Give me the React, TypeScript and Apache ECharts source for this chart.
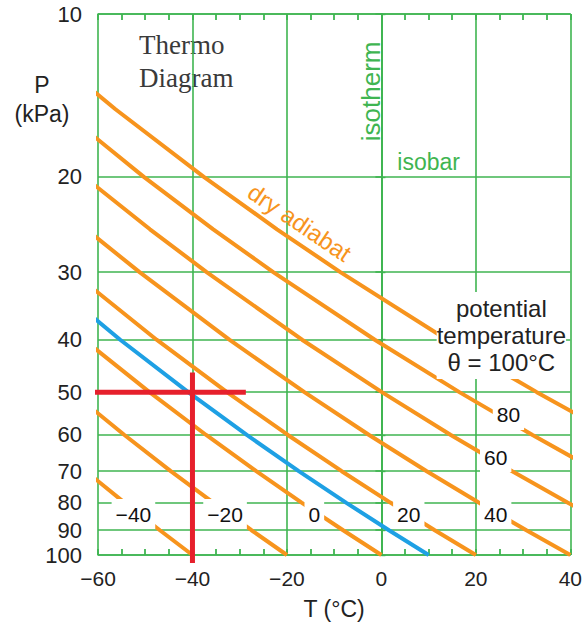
import React, { useEffect, useRef } from "react";
import * as echarts from "echarts";

// Pressure levels (kPa) at which each dry adiabat's temperature was read
const pressureLevels = [10, 12, 15, 20, 25, 30, 40, 50, 60, 70, 80, 90, 100];
// Temperatures (°C) read along each dry adiabat (null = not needed)
const adiabat100 = [-80.0, -69.7, -56.3, -37.6, -22.1, -8.7, 13.9, 32.9, 49.3, null, null, null, null];
const adiabat80 = [-90.4, -80.6, -67.9, -50.3, -35.6, -22.9, -1.4, 16.5, 32.0, 45.7, null, null, null];
const adiabat60 = [null, null, -79.5, -62.9, -49.0, -37.0, -16.8, 0.1, 14.7, 27.7, 39.4, 50.1, null];
const adiabat40 = [null, null, null, -75.5, -62.5, -51.2, -32.2, -16.3, -2.6, 9.6, 20.6, 30.7, 40];
const adiabat20 = [null, null, null, null, -75.9, -65.4, -47.6, -32.7, -19.8, -8.4, 1.9, 11.3, 20];
const adiabat0 = [null, null, null, null, null, -79.6, -63.0, -49.1, -37.1, -26.5, -16.9, -8.1, 0];
const adiabatM20 = [null, null, null, null, null, null, -78.4, -65.5, -54.4, -44.6, -35.6, -27.5, -20];
const adiabatM40 = [null, null, null, null, null, null, null, null, -71.7, -62.6, -54.4, -46.9, -40];
const adiabatBlue10 = [null, null, null, null, null, -72.5, -55.3, -40.9, -28.5, -17.5, -7.5, 1.6, 10];

const orangeAdiabats = [adiabat100, adiabat80, adiabat60, adiabat40, adiabat20, adiabat0, adiabatM20, adiabatM40];

// Axis ticks
const pressureTicks = [10, 20, 30, 40, 50, 60, 70, 80, 90, 100];
const tempMin = -60;
const tempMax = 40;
const tempStep = 20;
const tempMinorStep = 5;

// Red crosshair (T °C, P kPa)
const crossH = [[-62.1, 50], [-28.7, 50]];
const crossV = [[-40, 46], [-40, 103.5]];

// Adiabat labels: [text, T, P]
const thetaLabels: [string, number, number][] = [
  ["−40", -52.5, 84],
  ["−20", -33.1, 84],
  ["0", -14.2, 84],
  ["20", 5.8, 84],
  ["40", 24.2, 84],
  ["60", 24.2, 65.9],
  ["80", 26.9, 55.1],
];
const potentialLabel: [string, number, number] = ["potential\ntemperature\nθ = 100°C", 25.4, 39.3];
const isothermLabel: [string, number, number] = ["isotherm", -2.2, 13.9];
const isobarLabel: [string, number, number] = ["isobar", 10.0, 18.8];
const adiabatLabel: [string, number, number] = ["dry adiabat", -17.3, 24.3];

const GREEN = "#3fb551";
const ORANGE = "#f7941d";
const BLUE = "#1ea0e4";
const RED = "#e6202c";
const TEXT = "#222";
const SANS = "'Liberation Sans', Arial, sans-serif";

function toPairs(temps: (number | null)[]) {
  const out: number[][] = [];
  temps.forEach((t, i) => {
    if (t !== null) out.push([t, pressureLevels[i]]);
  });
  return out;
}

const fmtT = (v: number) => (v < 0 ? "−" + Math.abs(v) : String(v));

export default function App() {
  const ref = useRef<HTMLDivElement>(null);
  useEffect(() => {
    if (!ref.current) return;
    const chart = echarts.init(ref.current, null, { renderer: "svg" });

    const lineCommon = {
      type: "line",
      symbol: "none",
      xAxisIndex: 0,
      yAxisIndex: 0,
      silent: true,
    };

    const series: any[] = [];
    orangeAdiabats.forEach((arr) => {
      series.push({ ...lineCommon, data: toPairs(arr), clip: true, z: 3, lineStyle: { color: ORANGE, width: 4 } });
    });
    series.push({ ...lineCommon, data: toPairs(adiabatBlue10), clip: true, z: 4, lineStyle: { color: BLUE, width: 4 } });
    series.push({ ...lineCommon, data: crossH, clip: false, z: 5, lineStyle: { color: RED, width: 5 } });
    series.push({ ...lineCommon, data: crossV, clip: false, z: 5, lineStyle: { color: RED, width: 5 } });

    const labelData: any[] = [];
    thetaLabels.forEach(([text, t, p]) => {
      labelData.push({
        value: [t, p],
        label: {
          formatter: text,
          fontSize: 21,
          lineHeight: 22,
          color: "#111",
          opacity: 1,
          backgroundColor: "#fff",
          padding: [4, 4, 4, 4],
        },
      });
    });
    labelData.push({
      value: [potentialLabel[1], potentialLabel[2]],
      label: {
        formatter: potentialLabel[0],
        fontSize: 24,
        lineHeight: 27,
        color: TEXT,
        align: "center",
        backgroundColor: "#fff",
        padding: [2, 0, 4, 0],
      },
    });
    labelData.push({
      value: [isothermLabel[1], isothermLabel[2]],
      label: { formatter: isothermLabel[0], fontSize: 26, color: GREEN, rotate: 90 },
    });
    labelData.push({
      value: [isobarLabel[1], isobarLabel[2]],
      label: { formatter: isobarLabel[0], fontSize: 23, color: GREEN },
    });
    labelData.push({
      value: [adiabatLabel[1], adiabatLabel[2]],
      label: { formatter: adiabatLabel[0], fontSize: 24, color: ORANGE, rotate: -34 },
    });

    series.push({
      type: "scatter",
      xAxisIndex: 0,
      yAxisIndex: 0,
      symbolSize: 1,
      itemStyle: { color: "#ffffff", opacity: 1 },
      z: 10,
      silent: true,
      label: {
        show: true,
        position: "top",
        distance: -0.5,
        align: "center",
        verticalAlign: "middle",
        fontFamily: SANS,
        textBorderWidth: 0,
      },
      data: labelData,
    });

    const minorTickAxis = (position: string) => ({
      type: "value",
      position,
      min: tempMin,
      max: tempMax,
      interval: tempMinorStep,
      axisLine: { show: position === "top", lineStyle: { color: GREEN, width: 1.6 } },
      axisTick: { show: true, inside: true, length: 6, lineStyle: { color: GREEN, width: 1.8 } },
      axisLabel: { show: false },
      splitLine: { show: false },
    });

    const yBase = {
      type: "log",
      logBase: 10,
      min: 10,
      max: 100,
      inverse: true,
      axisLine: { show: true, lineStyle: { color: GREEN, width: 1.6 } },
    };

    chart.setOption({
      animation: false,
      backgroundColor: "#fff",
      grid: { left: 98, right: 7, top: 14, bottom: 71, containLabel: false },
      xAxis: [
        {
          type: "value",
          min: tempMin,
          max: tempMax,
          interval: tempStep,
          position: "bottom",
          axisLine: { show: true, lineStyle: { color: GREEN, width: 1.6 } },
          axisTick: { show: false },
          axisLabel: { show: true, fontSize: 21, fontFamily: SANS, color: TEXT, margin: 13, formatter: (v: number) => fmtT(v) },
          splitLine: { show: true, lineStyle: { color: GREEN, width: 1.6 } },
          name: "T (°C)",
          nameLocation: "middle",
          nameGap: 42,
          nameTextStyle: { fontSize: 23, fontFamily: SANS, color: TEXT },
        },
        minorTickAxis("top"),
        minorTickAxis("bottom"),
      ],
      yAxis: [
        {
          ...yBase,
          position: "left",
          axisTick: { show: true, inside: false, length: 6, customValues: pressureTicks, lineStyle: { color: GREEN, width: 1.6 } },
          axisLabel: {
            show: true,
            customValues: pressureTicks,
            fontSize: 22,
            fontFamily: SANS,
            color: TEXT,
            margin: 16,
            formatter: (v: number) => String(Math.round(v)),
          },
          splitLine: { show: true, lineStyle: { color: GREEN, width: 1.6 } },
        },
        {
          ...yBase,
          position: "right",
          axisTick: { show: true, inside: false, length: 4, customValues: pressureTicks, lineStyle: { color: GREEN, width: 1.4 } },
          axisLabel: { show: false },
          splitLine: { show: false },
        },
      ],
      graphic: [
        { type: "text", x: 42, y: 85, style: { text: "P", font: "23px " + SANS, fill: TEXT, align: "center", verticalAlign: "middle" } },
        { type: "text", x: 42, y: 114, style: { text: "(kPa)", font: "23px " + SANS, fill: TEXT, align: "center", verticalAlign: "middle" } },
        {
          type: "text",
          x: 139,
          y: 28,
          style: { text: "Thermo\nDiagram", font: "27px 'Liberation Serif', 'Times New Roman', serif", fill: "#3a3a3a", lineHeight: 33 },
        },
      ],
      series,
    });

    return () => chart.dispose();
  }, []);

  return <div ref={ref} style={{ position: "absolute", left: 0, top: 0, width: 585, height: 626 }} />;
}
